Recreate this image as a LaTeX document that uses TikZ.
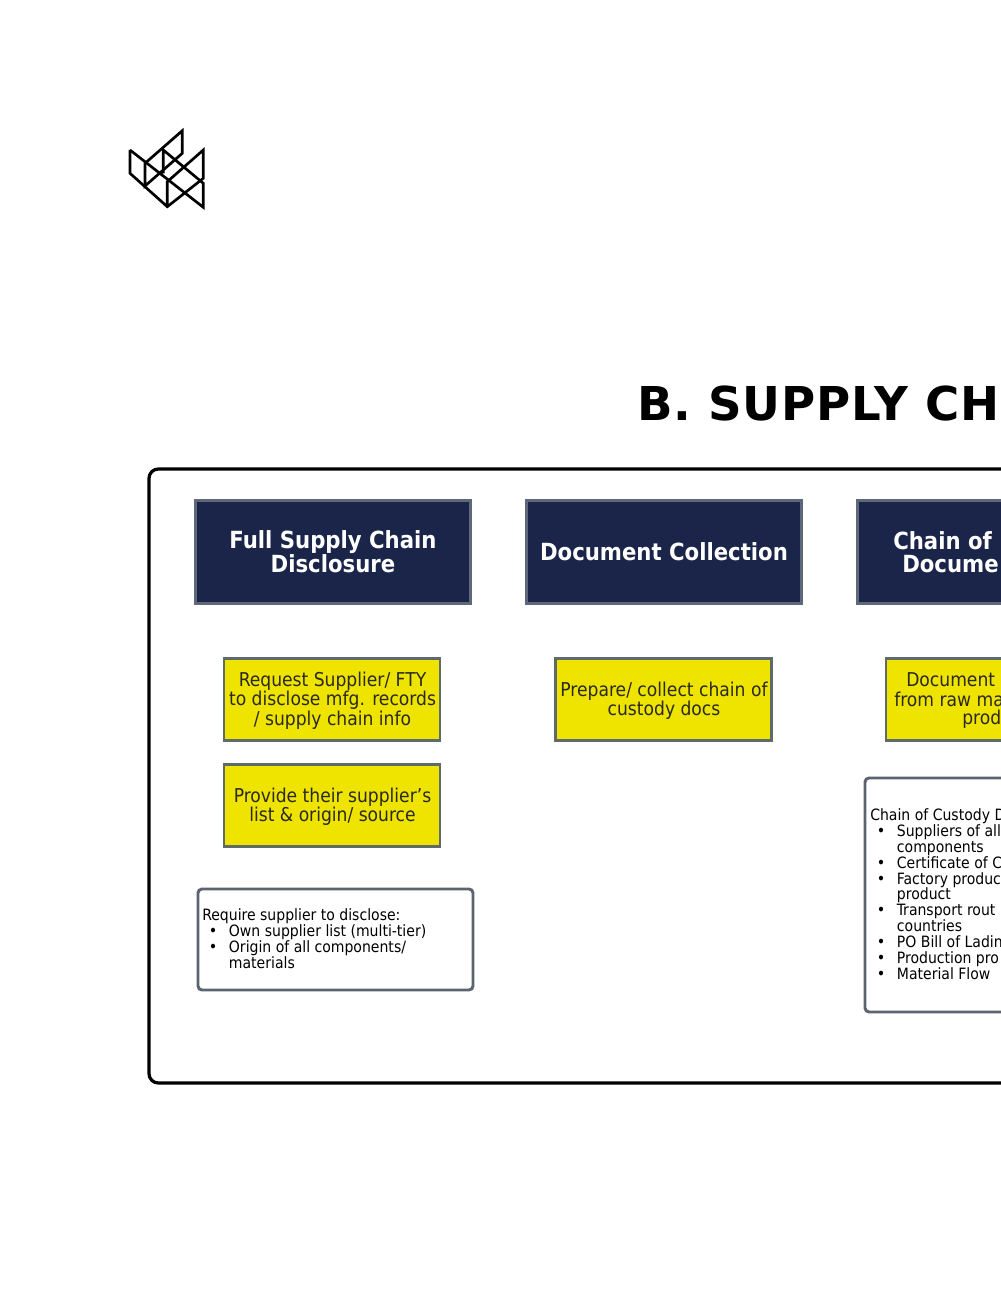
\documentclass[tikz,border=0pt]{standalone}
\usepackage{fontspec}
\setmainfont{DejaVu Sans Condensed}
\newfontfamily\titlefont[LetterSpace=1.7]{DejaVu Sans}
\definecolor{navy}{HTML}{1A2549}
\definecolor{navyline}{HTML}{5F6878}
\definecolor{boxyellow}{HTML}{EFE300}
\definecolor{yellowline}{HTML}{5F6B6B}
\definecolor{noteline}{HTML}{5B6470}
\definecolor{yellowtext}{HTML}{2A2A1C}
\tikzset{
    header/.style={draw=navyline, fill=navy, line width=2.5pt, minimum width=206.5pt, minimum height=77pt, inner sep=0pt},
    headertext/.style={text=white, font=\fontsize{17.7}{17.25}\selectfont\bfseries, align=center, inner sep=0pt},
    taskbox/.style={draw=yellowline, fill=boxyellow, line width=2.2pt, minimum width=162pt, minimum height=62pt, inner sep=0pt},
    tasktext/.style={text=yellowtext, font=\fontsize{14.3}{14.6}\selectfont, align=center, inner sep=0pt},
    notebox/.style={draw=noteline, fill=white, line width=2.2pt, rounded corners=3pt, inner sep=0pt},
    notetext/.style={font=\fontsize{11.7}{11.9}\selectfont, align=left, anchor=north west, inner sep=0pt},
    logoline/.style={line width=2pt, line join=miter}
}
\newcommand{\noteitem}[1]{\hspace*{5pt}\makebox[15pt][l]{\large\textbullet}#1}
\newcommand{\notecont}[1]{\hspace*{20pt}#1}
\begin{document}
\begin{tikzpicture}[x=0.75pt, y=-0.75pt]
    \useasboundingbox (0,0) rectangle (1000,1294);
    % Logo
    \draw[logoline] (130,150) -- (130,173.3) -- (167.3,206.7) -- (203.3,178.3) -- (203.3,150) -- (167.3,181.7) -- (167.3,206.7);
    \draw[logoline] (182.3,153.3) -- (182.3,130.7) -- (145,163.3) -- (145,186) -- cycle;
    \draw[logoline] (130,150) -- (203.3,207.3) -- (203.3,183.3) -- (163.3,150) -- (163.3,173.3);
    % Title
    \node[anchor=base west, inner sep=0pt, font=\titlefont\fontsize{35}{40}\selectfont\bfseries] (title) at (637,420) {B. SUPPLY CH};
    % Frame
    \draw[line width=2.4pt, rounded corners=7pt] (149,469) rectangle (1030,1083);
    % Headers
    \node[header] (headA) at (333,552) {};
    \node[header] (headB) at (664,552) {};
    \node[header] (headC) at (995,552) {};
    \node[headertext] (headAtext) at (333,552) {Full Supply Chain\\Disclosure};
    \node[headertext] (headBtext) at (664,552) {Document Collection};
    \node[headertext, anchor=west] (headCtop) at (893,541) {Chain of};
    \node[headertext, anchor=west] (headCbot) at (902,564) {Docume};
    % Tasks
    \node[taskbox] (taskA) at (332,699.5) {};
    \node[taskbox] (taskAb) at (332,805.5) {};
    \node[taskbox] (taskB) at (663.5,699.5) {};
    \node[taskbox] (taskC) at (994,699.5) {};
    \node[tasktext] (taskAtext) at (332.5,700.5) {Request Supplier/ FTY\\to disclose mfg. records\\/ supply chain info};
    \node[tasktext] (taskAbtext) at (332.5,806.5) {Provide their supplier’s\\list \& origin/ source};
    \node[tasktext] (taskBtext) at (664,700.5) {Prepare/ collect chain of\\custody docs};
    \node[tasktext, anchor=west] (taskCtop) at (906,680) {Document};
    \node[tasktext, anchor=west] (taskCmid) at (894,699) {from raw ma};
    \node[tasktext, anchor=west] (taskCbot) at (962,719) {prod};
    % Notes
    \draw[notebox] (198,889) rectangle (473,990);
    \draw[notebox] (865,778) rectangle (1140,1012);
    \node[notetext] (noteA) at (202,908.5) {Require supplier to disclose:\\
        \noteitem{Own supplier list (multi-tier)}\\
        \noteitem{Origin of all components/}\\
        \notecont{materials}};
    \node[notetext] (noteC) at (870,808.5) {Chain of Custody D\\
        \noteitem{Suppliers of all}\\
        \notecont{components}\\
        \noteitem{Certificate of C}\\
        \noteitem{Factory produc}\\
        \notecont{product}\\
        \noteitem{Transport rout}\\
        \notecont{countries}\\
        \noteitem{PO Bill of Ladin}\\
        \noteitem{Production pro}\\
        \noteitem{Material Flow}};
\end{tikzpicture}
\end{document}
